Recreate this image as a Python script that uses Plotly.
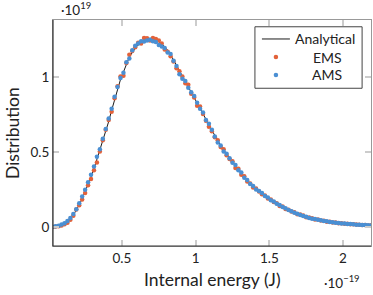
import plotly.graph_objects as go

# Bin centres of internal energy (units of 1e-19 J)
energy = [0.03, 0.05, 0.07, 0.09, 0.11, 0.13, 0.15, 0.17, 0.19, 0.21,
          0.23, 0.25, 0.27, 0.29, 0.31, 0.33, 0.35, 0.37, 0.39, 0.41,
          0.43, 0.45, 0.47, 0.49, 0.51, 0.53, 0.55, 0.57, 0.59, 0.61,
          0.63, 0.65, 0.67, 0.69, 0.71, 0.73, 0.75, 0.77, 0.79, 0.81,
          0.83, 0.85, 0.87, 0.89, 0.91, 0.93, 0.95, 0.97, 0.99, 1.01,
          1.03, 1.05, 1.07, 1.09, 1.11, 1.13, 1.15, 1.17, 1.19, 1.21,
          1.23, 1.25, 1.27, 1.29, 1.31, 1.33, 1.35, 1.37, 1.39, 1.41,
          1.43, 1.45, 1.47, 1.49, 1.51, 1.53, 1.55, 1.57, 1.59, 1.61,
          1.63, 1.65, 1.67, 1.69, 1.71, 1.73, 1.75, 1.77, 1.79, 1.81,
          1.83, 1.85, 1.87, 1.89, 1.91, 1.93, 1.95, 1.97, 1.99, 2.01,
          2.03, 2.05, 2.07, 2.09, 2.11, 2.13, 2.15, 2.17, 2.19]

# Distribution values (units of 1e19)
analytical = [0.002, 0.004, 0.008, 0.013, 0.021, 0.035, 0.055, 0.080, 0.112, 0.150,
              0.190, 0.235, 0.285, 0.335, 0.390, 0.450, 0.510, 0.575, 0.640, 0.705,
              0.780, 0.855, 0.925, 0.985, 1.035, 1.085, 1.135, 1.165, 1.195, 1.215,
              1.235, 1.248, 1.256, 1.260, 1.258, 1.250, 1.238, 1.222, 1.205, 1.180,
              1.150, 1.115, 1.080, 1.045, 1.010, 0.975, 0.940, 0.905, 0.870, 0.835,
              0.795, 0.760, 0.720, 0.680, 0.645, 0.610, 0.575, 0.545, 0.515, 0.485,
              0.460, 0.435, 0.410, 0.385, 0.360, 0.335, 0.310, 0.290, 0.272, 0.255,
              0.240, 0.225, 0.210, 0.196, 0.183, 0.170, 0.158, 0.146, 0.135, 0.125,
              0.115, 0.106, 0.097, 0.089, 0.082, 0.075, 0.069, 0.063, 0.058, 0.054,
              0.050, 0.046, 0.042, 0.038, 0.035, 0.032, 0.030, 0.028, 0.026, 0.024,
              0.022, 0.021, 0.019, 0.018, 0.016, 0.015, 0.014, 0.013, 0.012]

ems = [0.002, 0.004, 0.007, 0.012, 0.019, 0.030, 0.050, 0.076, 0.118, 0.146,
       0.185, 0.228, 0.280, 0.322, 0.380, 0.432, 0.505, 0.580, 0.650, 0.715,
       0.770, 0.860, 0.940, 1.005, 1.010, 1.095, 1.150, 1.175, 1.200, 1.230,
       1.225, 1.262, 1.260, 1.245, 1.262, 1.255, 1.245, 1.225, 1.185, 1.170,
       1.140, 1.105, 1.060, 1.040, 1.005, 0.960, 0.950, 0.890, 0.865, 0.810,
       0.805, 0.755, 0.710, 0.670, 0.640, 0.600, 0.580, 0.535, 0.520, 0.480,
       0.455, 0.440, 0.395, 0.390, 0.350, 0.340, 0.305, 0.292, 0.265, 0.258,
       0.238, 0.220, 0.212, 0.192, 0.185, 0.168, 0.160, 0.142, 0.138, 0.122,
       0.117, 0.104, 0.100, 0.087, 0.084, 0.078, 0.066, 0.064, 0.060, 0.052,
       0.051, 0.044, 0.043, 0.037, 0.036, 0.031, 0.031, 0.027, 0.027, 0.023,
       0.023, 0.020, 0.019, 0.018, 0.017, 0.014, 0.015, 0.012, 0.013]

ams = [0.003, 0.006, 0.010, 0.018, 0.027, 0.042, 0.062, 0.088, 0.120, 0.160,
       0.205, 0.250, 0.300, 0.350, 0.405, 0.470, 0.520, 0.590, 0.655, 0.725,
       0.790, 0.870, 0.935, 0.995, 1.030, 1.100, 1.125, 1.180, 1.210, 1.225,
       1.240, 1.238, 1.245, 1.250, 1.240, 1.235, 1.215, 1.205, 1.195, 1.165,
       1.155, 1.110, 1.075, 1.020, 0.990, 0.975, 0.930, 0.900, 0.875, 0.830,
       0.790, 0.765, 0.715, 0.690, 0.650, 0.605, 0.565, 0.545, 0.505, 0.490,
       0.460, 0.430, 0.415, 0.380, 0.365, 0.330, 0.315, 0.288, 0.275, 0.252,
       0.242, 0.228, 0.208, 0.198, 0.180, 0.172, 0.156, 0.148, 0.134, 0.126,
       0.114, 0.107, 0.096, 0.090, 0.081, 0.074, 0.070, 0.062, 0.057, 0.055,
       0.049, 0.047, 0.041, 0.039, 0.034, 0.033, 0.029, 0.028, 0.025, 0.024,
       0.022, 0.021, 0.020, 0.017, 0.016, 0.015, 0.014, 0.013, 0.012]

x_ticks = [0.5, 1, 1.5, 2]
x_tick_text = ["0.5", "1", "1.5", "2"]
y_ticks = [0, 0.5, 1]
y_tick_text = ["0", "0.5", "1"]

ORANGE = "#e2623a"
BLUE = "#4a8fd3"
FONT = "Lato"
TXT = "#222222"

fig = go.Figure()
fig.add_trace(go.Scatter(x=energy, y=analytical, mode="lines", name="Analytical",
                         line=dict(color="black", width=0.9)))
fig.add_trace(go.Scatter(x=energy, y=ems, mode="markers", name="EMS",
                         marker=dict(color=ORANGE, size=4.5, line=dict(width=0))))
fig.add_trace(go.Scatter(x=energy, y=ams, mode="markers", name="AMS",
                         marker=dict(color=BLUE, size=4.5, line=dict(width=0))))

axis_common = dict(showgrid=False, zeroline=False, showline=True, linecolor="#999999",
                   linewidth=1, mirror="ticks", ticks="inside", ticklen=6, tickwidth=1.5,
                   tickcolor="#cccccc", automargin=False,
                   tickfont=dict(family=FONT, size=13.5, color=TXT))

fig.update_xaxes(range=[0.032, 2.19], tickvals=x_ticks, ticktext=x_tick_text, **axis_common)
fig.update_yaxes(range=[-0.1255, 1.382], tickvals=y_ticks, ticktext=y_tick_text, **axis_common)

# dark left and bottom axis lines
fig.add_shape(type="line", xref="paper", yref="paper", x0=0, x1=0, y0=0, y1=1,
              line=dict(color="#333333", width=1.2), layer="above")
fig.add_shape(type="line", xref="paper", yref="paper", x0=0, x1=1, y0=0, y1=0,
              line=dict(color="#333333", width=1.2), layer="above")

# axis titles
fig.add_annotation(text="Internal energy (J)", xref="paper", yref="paper", x=0.5, y=-0.150,
                   xanchor="center", yanchor="middle", showarrow=False,
                   font=dict(family=FONT, size=17.5, color=TXT))
fig.add_annotation(text="Distribution", xref="paper", yref="paper", x=-0.129, y=0.5,
                   xanchor="center", yanchor="middle", textangle=-90, showarrow=False,
                   font=dict(family=FONT, size=17.5, color=TXT))

# scale factors
fig.add_annotation(text="·10<sup>19</sup>", xref="paper", yref="paper", x=0.02, y=1.0,
                   xanchor="left", yanchor="bottom", yshift=0, showarrow=False,
                   font=dict(family=FONT, size=13.5, color=TXT))
fig.add_annotation(text="·10<sup>−19</sup>", xref="paper", yref="paper", x=0.972, y=-0.159,
                   xanchor="right", yanchor="middle", showarrow=False,
                   font=dict(family=FONT, size=13.5, color=TXT))

# legend box (pgfplots style, entries centred)
legend_names = ["Analytical", "EMS", "AMS"]
legend_rows = [0.916, 0.836, 0.757]
fig.add_shape(type="rect", xref="paper", yref="paper", x0=0.635, x1=0.972, y0=0.698, y1=0.970,
              line=dict(color="#444444", width=1), fillcolor="white", layer="above")
fig.add_shape(type="line", xref="paper", yref="paper", x0=0.657, x1=0.745,
              y0=legend_rows[0], y1=legend_rows[0],
              line=dict(color="black", width=0.9), layer="above")
for row, col in zip(legend_rows[1:], [ORANGE, BLUE]):
    fig.add_shape(type="circle", xref="paper", yref="paper",
                  x0=0.701 - 0.0071, x1=0.701 + 0.0071, y0=row - 0.0100, y1=row + 0.0100,
                  line=dict(width=0), fillcolor=col, layer="above")
for name, row, x0 in zip(legend_names, legend_rows, [0.755, 0.811, 0.808]):
    fig.add_annotation(text=name, xref="paper", yref="paper", x=x0, y=row,
                       xanchor="left", yanchor="middle", showarrow=False,
                       font=dict(family=FONT, size=14, color=TXT))

fig.update_layout(
    width=373, height=295,
    margin=dict(l=53, r=2, t=20, b=49),
    paper_bgcolor="white", plot_bgcolor="white",
    showlegend=False,
)

fig.write_html("out.html", config={"displayModeBar": False},
               post_script="document.body.style.margin='0';document.body.style.overflow='hidden';")
